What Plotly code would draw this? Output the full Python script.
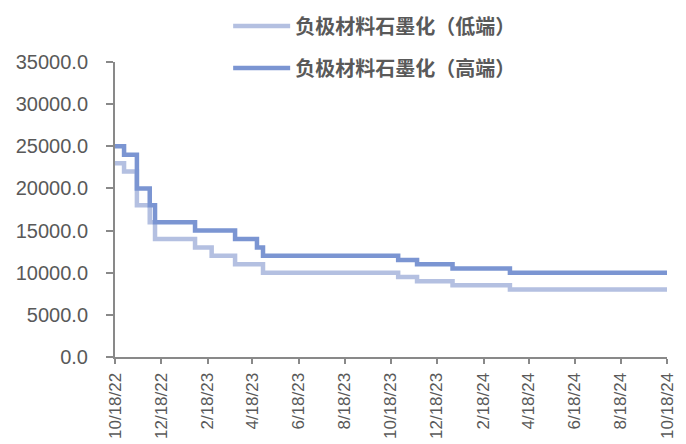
import plotly.graph_objects as go

# Step dates and prices (yuan/ton) for anode graphitization processing
low_dates = ['2022-10-18', '2022-10-30', '2022-11-16', '2022-12-03', '2022-12-10',
             '2023-02-01', '2023-02-23', '2023-03-26', '2023-05-02', '2023-10-28',
             '2023-11-22', '2024-01-08', '2024-03-24', '2024-10-18']
low_vals = [23000, 22000, 18000, 16000, 14000,
            13000, 12000, 11000, 10000, 9500,
            9000, 8500, 8000, 8000]

high_dates = ['2022-10-18', '2022-10-30', '2022-11-16', '2022-12-03', '2022-12-10',
              '2023-02-01', '2023-03-26', '2023-04-24', '2023-05-02', '2023-10-28',
              '2023-11-22', '2024-01-08', '2024-03-24', '2024-10-18']
high_vals = [25000, 24000, 20000, 18000, 16000,
             15000, 14000, 13000, 12000, 11500,
             11000, 10500, 10000, 10000]

series_names = ['负极材料石墨化（低端）', '负极材料石墨化（高端）']

tick_dates = ['2022-10-18', '2022-12-18', '2023-02-18', '2023-04-18', '2023-06-18',
              '2023-08-18', '2023-10-18', '2023-12-18', '2024-02-18', '2024-04-18',
              '2024-06-18', '2024-08-18', '2024-10-18']
tick_labels = ['10/18/22', '12/18/22', '2/18/23', '4/18/23', '6/18/23',
               '8/18/23', '10/18/23', '12/18/23', '2/18/24', '4/18/24',
               '6/18/24', '8/18/24', '10/18/24']

y_ticks = [0, 5000, 10000, 15000, 20000, 25000, 30000, 35000]

axis_color = '#898989'
text_color = '#595959'

fig = go.Figure()
fig.add_trace(go.Scatter(
    x=low_dates, y=low_vals, name=series_names[0], mode='lines',
    line=dict(color='#b4c0e1', width=4.5, shape='hv'), legendgroup='low'))
fig.add_trace(go.Scatter(
    x=high_dates, y=high_vals, name=series_names[1], mode='lines',
    line=dict(color='#7b95d2', width=4.5, shape='hv'), legendgroup='high'))

fig.update_layout(
    width=686, height=444,
    margin=dict(l=115, r=19, t=62, b=87, autoexpand=False),
    paper_bgcolor='white', plot_bgcolor='white',
    showlegend=True,
    legend=dict(
        x=0.205, y=1.188, xanchor='left', yanchor='top',
        font=dict(family='Noto Sans CJK SC', size=20, color=text_color, weight='bold'),
        tracegroupgap=13, itemwidth=57, bgcolor='rgba(0,0,0,0)',
    ),
    xaxis=dict(
        type='date', range=['2022-10-18', '2024-10-18'],
        tickvals=tick_dates, ticktext=tick_labels, tickangle=-90,
        tickfont=dict(family='Liberation Sans, Arial', size=17, color=text_color),
        showline=True, linecolor=axis_color, linewidth=2,
        ticks='outside', tickcolor=axis_color, ticklen=5, tickwidth=2,
        ticklabelstandoff=2,
        showgrid=False, zeroline=False, automargin=False,
    ),
    yaxis=dict(
        range=[0, 35000], tickvals=y_ticks, tickformat='.1f',
        tickfont=dict(family='Liberation Sans, Arial', size=20, color=text_color),
        showline=True, linecolor=axis_color, linewidth=2,
        ticks='outside', tickcolor=axis_color, ticklen=7, tickwidth=2,
        ticklabelstandoff=14,
        showgrid=False, zeroline=False, automargin=False,
    ),
)

fig.write_html('out.html')
